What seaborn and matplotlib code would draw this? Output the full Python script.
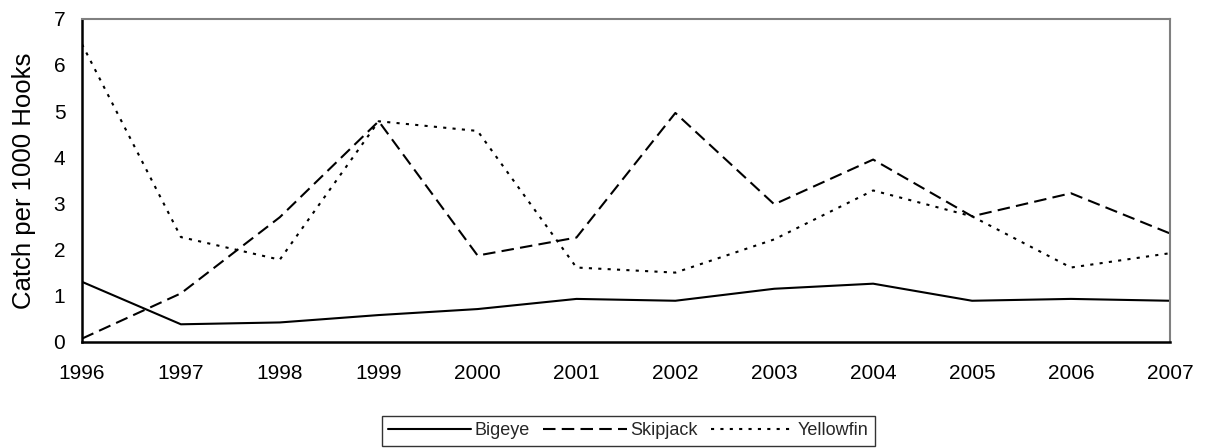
import matplotlib
matplotlib.use("Agg")
import matplotlib.pyplot as plt
import seaborn as sns
import pandas as pd
from matplotlib.lines import Line2D

years = [1996, 1997, 1998, 1999, 2000, 2001, 2002, 2003, 2004, 2005, 2006, 2007]
bigeye = [1.30, 0.38, 0.42, 0.58, 0.71, 0.93, 0.89, 1.15, 1.26, 0.89, 0.93, 0.89]
skipjack = [0.07, 1.05, 2.70, 4.78, 1.87, 2.26, 4.96, 2.98, 3.95, 2.72, 3.22, 2.35]
yellowfin = [6.45, 2.27, 1.78, 4.78, 4.57, 1.61, 1.50, 2.22, 3.28, 2.72, 1.61, 1.92]
series_names = ["Bigeye", "Skipjack", "Yellowfin"]

df = pd.DataFrame({
    "Year": years * 3,
    "Catch": bigeye + skipjack + yellowfin,
    "Species": [series_names[0]] * len(years) + [series_names[1]] * len(years) + [series_names[2]] * len(years),
})

sns.set_theme(style="white")
plt.rcParams['font.family'] = ['Liberation Sans', 'DejaVu Sans']

fig = plt.figure(figsize=(12.06, 4.48), dpi=100)
ax = fig.add_axes([0.068, 0.237, 0.902, 0.721])

dash_map = {"Bigeye": "", "Skipjack": (6, 3), "Yellowfin": (1.5, 3)}
sns.lineplot(data=df, x="Year", y="Catch", style="Species", color="black",
             dashes=dash_map, linewidth=1.5, ax=ax, legend=False)

ax.set_xlim(1996, 2007)
ax.set_ylim(0, 7)
ax.set_xticks(years)
ax.set_yticks(range(0, 8))
ax.tick_params(axis="both", labelsize=15, colors="black", length=8, width=1.4, direction="inout")
ax.tick_params(axis="x", pad=12)
ax.tick_params(axis="y", pad=8)
ax.set_xlabel("")
ax.set_ylabel("Catch per 1000 Hooks", fontsize=18.5, color="black", labelpad=13)

for s in ["left", "bottom"]:
    ax.spines[s].set_color("black")
    ax.spines[s].set_linewidth(1.8)
for s in ["top", "right"]:
    ax.spines[s].set_color("#808080")
    ax.spines[s].set_linewidth(1.5)

handles = [
    Line2D([], [], color="black", linewidth=1.5, linestyle="-"),
    Line2D([], [], color="black", linewidth=1.5, linestyle=(0, dash_map["Skipjack"])),
    Line2D([], [], color="black", linewidth=1.5, linestyle=(0, dash_map["Yellowfin"])),
]
leg = fig.legend(handles, series_names, loc="center", bbox_to_anchor=(0.521, 0.038),
                 ncol=3, frameon=True, fancybox=False, fontsize=13,
                 handlelength=4.6, handletextpad=0.2, columnspacing=0.75,
                 borderpad=0.35, borderaxespad=0, edgecolor="black")
leg.get_frame().set_linewidth(1.0)

fig.savefig("out.png", dpi=100)
